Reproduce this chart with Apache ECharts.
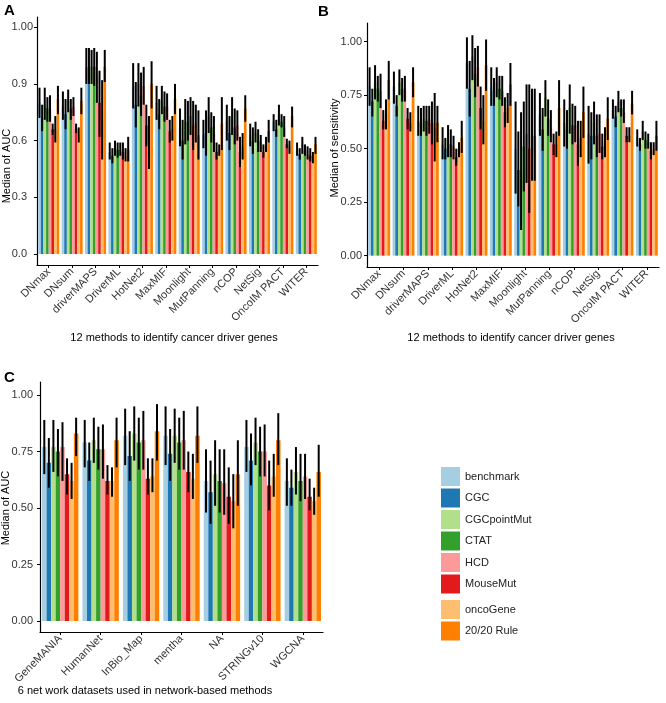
<!DOCTYPE html>
<html><head><meta charset="utf-8">
<script src="https://cdn.jsdelivr.net/npm/echarts@6/dist/echarts.min.js"></script>
<style>html,body{margin:0;padding:0;background:#fff}#c{width:666px;height:703px}</style>
</head><body><div id="c"></div>
<script>
// ---------- data ----------
const groups = ['benchmark','CGC','CGCpointMut','CTAT','HCD','MouseMut','oncoGene','20/20 Rule'];
const colors = ['#A6CEE3','#1F78B4','#B2DF8A','#33A02C','#FB9A99','#E31A1C','#FDBF6F','#FF7F00'];
const methods = ['DNmax','DNsum','driverMAPS','DriverML','HotNet2','MaxMIF','Moonlight','MutPanning','nCOP','NetSig','OncoIM PACT','WITER'];
const networks = ['GeneMANIA','HumanNet','InBio_Map','mentha','NA','STRINGv10','WGCNA'];

const aucTickValues = [0, 0.3, 0.6, 0.9, 1.2];
const aucTickLabels = ['0.0','0.3','0.6','0.9','1.00'];
const sensTickValues = [0, 0.25, 0.5, 0.75, 1.0];
const sensTickLabels = ['0.00','0.25','0.50','0.75','1.00'];
const netTickValues = [0, 0.25, 0.5, 0.75, 1.0];
const netTickLabels = ['0.00','0.25','0.50','0.75','1.00'];

// Panel A: median AUC per group (rows) x method (cols)
const aucMed = [
 [0.80,0.78,0.99,0.54,0.89,0.80,0.67,0.63,0.70,0.63,0.70,0.55],
 [0.72,0.74,0.99,0.52,0.79,0.74,0.60,0.64,0.64,0.60,0.66,0.53],
 [0.79,0.81,0.99,0.56,0.90,0.81,0.70,0.73,0.73,0.64,0.73,0.58],
 [0.77,0.77,0.99,0.55,0.84,0.78,0.70,0.67,0.67,0.60,0.70,0.55],
 [0.77,0.78,0.94,0.55,0.89,0.78,0.73,0.64,0.68,0.59,0.67,0.53],
 [0.66,0.66,0.80,0.54,0.68,0.65,0.68,0.54,0.54,0.54,0.58,0.52],
 [0.66,0.63,0.71,0.52,0.59,0.66,0.69,0.55,0.57,0.58,0.57,0.51],
 [0.82,0.81,0.99,0.55,0.90,0.82,0.63,0.69,0.77,0.65,0.73,0.58]
];
const aucLow = [
 [0.72,0.71,0.90,0.50,0.77,0.71,0.57,0.56,0.60,0.57,0.65,0.52],
 [0.65,0.66,0.90,0.48,0.67,0.66,0.50,0.52,0.55,0.53,0.62,0.50],
 [0.71,0.75,0.90,0.52,0.78,0.74,0.58,0.64,0.63,0.59,0.68,0.53],
 [0.70,0.71,0.89,0.51,0.73,0.70,0.60,0.59,0.58,0.54,0.67,0.52],
 [0.70,0.73,0.80,0.52,0.79,0.71,0.63,0.54,0.60,0.54,0.62,0.50],
 [0.63,0.64,0.62,0.50,0.57,0.59,0.55,0.50,0.46,0.51,0.56,0.49],
 [0.59,0.59,0.50,0.49,0.45,0.60,0.59,0.52,0.50,0.54,0.53,0.48],
 [0.74,0.74,0.91,0.49,0.77,0.74,0.50,0.55,0.70,0.59,0.67,0.53]
];
const aucHigh = [
 [0.88,0.86,1.09,0.59,1.01,0.89,0.77,0.71,0.79,0.69,0.74,0.59],
 [0.79,0.82,1.09,0.56,0.91,0.82,0.71,0.76,0.73,0.67,0.71,0.56],
 [0.88,0.87,1.08,0.60,1.01,0.89,0.82,0.83,0.83,0.70,0.79,0.62],
 [0.83,0.82,1.09,0.59,0.96,0.86,0.81,0.75,0.77,0.66,0.74,0.58],
 [0.84,0.83,1.07,0.59,0.99,0.85,0.83,0.73,0.76,0.63,0.73,0.57],
 [0.69,0.69,0.97,0.59,0.79,0.71,0.81,0.59,0.62,0.58,0.61,0.56],
 [0.73,0.67,0.92,0.56,0.73,0.73,0.79,0.58,0.64,0.62,0.60,0.54],
 [0.89,0.88,1.08,0.62,1.02,0.90,0.76,0.83,0.84,0.71,0.78,0.62]
];

// Panel B: median sensitivity
const sensMed = [
 [0.79,0.79,0.63,0.52,0.90,0.79,0.50,0.66,0.62,0.57,0.68,0.55],
 [0.72,0.70,0.62,0.50,0.78,0.77,0.40,0.59,0.59,0.56,0.65,0.52],
 [0.81,0.81,0.64,0.54,0.93,0.81,0.39,0.74,0.69,0.62,0.72,0.58],
 [0.78,0.78,0.63,0.52,0.85,0.78,0.51,0.64,0.61,0.56,0.69,0.54],
 [0.77,0.78,0.64,0.51,0.88,0.77,0.57,0.60,0.61,0.57,0.67,0.53],
 [0.63,0.64,0.62,0.46,0.69,0.67,0.50,0.52,0.52,0.51,0.56,0.49],
 [0.66,0.62,0.60,0.50,0.63,0.69,0.56,0.52,0.55,0.53,0.56,0.50],
 [0.82,0.81,0.62,0.55,0.89,0.80,0.56,0.69,0.67,0.64,0.71,0.56]
];
const sensLow = [
 [0.70,0.71,0.56,0.45,0.78,0.70,0.29,0.56,0.51,0.43,0.64,0.51],
 [0.65,0.65,0.56,0.45,0.65,0.70,0.23,0.49,0.50,0.45,0.60,0.49],
 [0.73,0.75,0.58,0.46,0.82,0.74,0.12,0.65,0.57,0.52,0.67,0.54],
 [0.72,0.72,0.56,0.46,0.74,0.73,0.30,0.56,0.52,0.46,0.65,0.50],
 [0.69,0.72,0.57,0.45,0.79,0.70,0.34,0.53,0.53,0.48,0.62,0.50],
 [0.59,0.59,0.52,0.42,0.59,0.60,0.20,0.47,0.42,0.45,0.53,0.45],
 [0.59,0.58,0.44,0.46,0.52,0.62,0.35,0.46,0.46,0.46,0.53,0.47],
 [0.73,0.74,0.53,0.48,0.77,0.70,0.35,0.56,0.55,0.54,0.66,0.49]
];
const sensHigh = [
 [0.88,0.86,0.70,0.60,1.02,0.88,0.72,0.76,0.73,0.70,0.73,0.59],
 [0.78,0.75,0.69,0.55,0.91,0.83,0.58,0.69,0.68,0.67,0.70,0.55],
 [0.89,0.87,0.70,0.61,1.03,0.88,0.67,0.82,0.80,0.72,0.77,0.63],
 [0.84,0.83,0.70,0.59,0.97,0.84,0.72,0.73,0.71,0.66,0.73,0.58],
 [0.85,0.84,0.70,0.56,0.98,0.84,0.80,0.68,0.70,0.66,0.73,0.57],
 [0.68,0.69,0.72,0.50,0.79,0.74,0.80,0.57,0.63,0.57,0.60,0.53],
 [0.73,0.67,0.76,0.53,0.75,0.76,0.78,0.58,0.63,0.60,0.60,0.53],
 [0.91,0.88,0.70,0.63,1.01,0.90,0.78,0.82,0.79,0.74,0.77,0.63]
];

// Panel C: median AUC by network dataset
const netMed = [
 [0.77,0.79,0.82,0.82,0.62,0.77,0.62],
 [0.70,0.71,0.73,0.74,0.57,0.71,0.59],
 [0.77,0.80,0.83,0.82,0.65,0.79,0.66],
 [0.75,0.76,0.79,0.79,0.62,0.75,0.62],
 [0.77,0.76,0.80,0.80,0.61,0.75,0.64],
 [0.65,0.62,0.63,0.66,0.55,0.60,0.55],
 [0.62,0.62,0.64,0.63,0.53,0.64,0.53],
 [0.83,0.80,0.84,0.82,0.65,0.80,0.66]
];
const netLow = [
 [0.65,0.68,0.69,0.69,0.48,0.66,0.51],
 [0.59,0.62,0.62,0.62,0.43,0.60,0.51],
 [0.66,0.70,0.71,0.70,0.51,0.69,0.56],
 [0.64,0.67,0.67,0.67,0.48,0.64,0.53],
 [0.62,0.63,0.67,0.67,0.47,0.64,0.54],
 [0.56,0.56,0.56,0.57,0.43,0.49,0.49],
 [0.54,0.55,0.57,0.54,0.41,0.55,0.47],
 [0.73,0.68,0.71,0.70,0.51,0.69,0.55]
];
const netHigh = [
 [0.89,0.89,0.94,0.95,0.76,0.89,0.72],
 [0.81,0.79,0.84,0.85,0.71,0.83,0.67],
 [0.89,0.90,0.95,0.94,0.80,0.90,0.77],
 [0.85,0.86,0.90,0.90,0.76,0.86,0.74],
 [0.88,0.87,0.93,0.93,0.76,0.87,0.74],
 [0.72,0.69,0.72,0.75,0.68,0.71,0.63],
 [0.70,0.68,0.72,0.74,0.65,0.74,0.59],
 [0.90,0.90,0.96,0.95,0.80,0.92,0.78]
];

// ---------- chart ----------
const FONT = '"Liberation Sans", Arial, Helvetica, sans-serif';
const TXT = '#333';
const chart = echarts.init(document.getElementById('c'), null, {renderer: 'canvas'});

function xAx(gi, cats) {
  return {
    type: 'category', gridIndex: gi, data: cats, boundaryGap: true,
    axisLine: {show: true, onZero: false, lineStyle: {color: '#000', width: 1.2}},
    axisTick: {show: true, alignWithLabel: true, length: 3, lineStyle: {color: '#000', width: 1}},
    axisLabel: {rotate: 45, margin: 5, fontSize: 11, color: TXT, fontFamily: FONT, interval: 0},
    splitLine: {show: false}
  };
}
function yAx(gi, min, max, vals, labs, margin, padLast) {
  const st = {fontSize: 11, color: TXT, fontFamily: FONT};
  return {
    type: 'value', gridIndex: gi, min: min, max: max,
    axisLine: {show: true, lineStyle: {color: '#000', width: 1.2}},
    axisTick: {show: true, length: 3, customValues: vals, lineStyle: {color: '#000', width: 1}},
    axisLabel: {show: true, margin: margin, fontSize: 11, color: TXT, fontFamily: FONT, customValues: vals,
      rich: {p: Object.assign({padding: [0, padLast, 0, 0]}, st), q: Object.assign({}, st)},
      formatter: v => {
        const i = vals.findIndex(t => Math.abs(t - v) < 1e-6);
        if (i < 0) return '';
        return (i === vals.length - 1 ? '{q|' : '{p|') + labs[i] + '}';
      }},
    splitLine: {show: false}
  };
}

function errRender(gi) {
  return function (params, api) {
    const ci = api.value(0);
    const pLo = api.coord([ci, api.value(1)]);
    const pHi = api.coord([ci, api.value(2)]);
    const band = api.size([1, 0])[0];
    const gw = band * 0.9;
    const bw = gw / groups.length;
    const off = -gw / 2 + (gi + 0.5) * bw;
    return {
      type: 'line',
      shape: {x1: pLo[0] + off, y1: pLo[1], x2: pLo[0] + off, y2: pHi[1]},
      style: {stroke: '#000', lineWidth: 2}
    };
  };
}

const series = [];
function addPanel(pi, cats, med, low, high) {
  groups.forEach((g, gi) => {
    series.push({
      type: 'bar', name: g, xAxisIndex: pi, yAxisIndex: pi, data: med[gi],
      itemStyle: {color: colors[gi]}, barGap: '0%', barCategoryGap: '10%', silent: true
    });
  });
  groups.forEach((g, gi) => {
    series.push({
      type: 'custom', xAxisIndex: pi, yAxisIndex: pi, z: 5, silent: true,
      renderItem: errRender(gi), encode: {x: 0, y: [1, 2]},
      data: cats.map((c, ci) => [ci, low[gi][ci], high[gi][ci]])
    });
  });
}
addPanel(0, methods, aucMed, aucLow, aucHigh);
addPanel(1, methods, sensMed, sensLow, sensHigh);
addPanel(2, networks, netMed, netLow, netHigh);

function txt(text, x, y, opts) {
  return Object.assign({
    type: 'text', x: x, y: y, silent: true,
    style: Object.assign({text: text, fill: '#000', font: '11px ' + FONT, textAlign: 'center', textVerticalAlign: 'middle'}, (opts && opts.style) || {})
  }, (opts && opts.el) || {});
}

const legendBase = {
  orient: 'vertical', left: 436, itemWidth: 19, itemHeight: 19, itemGap: 2.5, icon: 'rect',
  selectedMode: false, textStyle: {fontSize: 11, color: '#222', fontFamily: FONT}
};

chart.setOption({
  animation: false,
  backgroundColor: '#fff',
  grid: [
    {left: 37, top: 17, width: 281, height: 248},
    {left: 367, top: 23, width: 292, height: 244},
    {left: 40, top: 382, width: 283, height: 250}
  ],
  xAxis: [xAx(0, methods), xAx(1, methods), xAx(2, networks)],
  yAxis: [
    yAx(0, -0.058, 1.254, aucTickValues, aucTickLabels, 4, 6),
    yAx(1, -0.053, 1.087, sensTickValues, sensTickLabels, 5, 0),
    yAx(2, -0.049, 1.058, netTickValues, netTickLabels, 7, 0)
  ],
  legend: [
    Object.assign({}, legendBase, {top: 462, data: groups.slice(0, 6)}),
    Object.assign({}, legendBase, {top: 595, data: groups.slice(6)})
  ],
  series: series,
  graphic: [
    txt('A', 4, 11, {style: {font: 'bold 15px ' + FONT, textAlign: 'left'}}),
    txt('B', 318, 12, {style: {font: 'bold 15px ' + FONT, textAlign: 'left'}}),
    txt('C', 4, 378, {style: {font: 'bold 15px ' + FONT, textAlign: 'left'}}),
    txt('Median of AUC', 7, 166, {el: {rotation: Math.PI / 2}}),
    txt('Median of sensitivity', 335, 148, {el: {rotation: Math.PI / 2}}),
    txt('Median of AUC', 6, 508, {el: {rotation: Math.PI / 2}}),
    txt('12 methods to identify cancer driver genes', 174, 338),
    txt('12 methods to identify cancer driver genes', 511, 338),
    txt('6 net work datasets used in network-based methods', 145, 691)
  ]
});
</script></body></html>
